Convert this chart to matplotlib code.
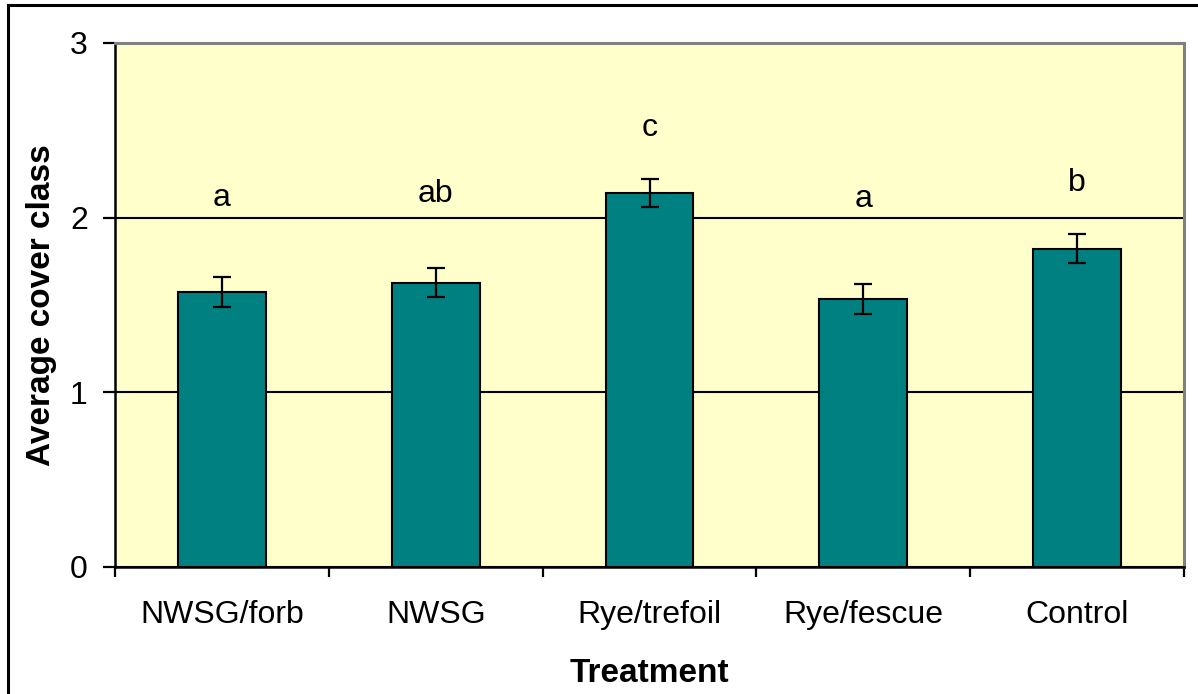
import matplotlib.pyplot as plt
from matplotlib.lines import Line2D
import numpy as np

plt.rcParams['font.family'] = ['Liberation Sans', 'DejaVu Sans']

treatments = ["NWSG/forb", "NWSG", "Rye/trefoil", "Rye/fescue", "Control"]
cover = [1.576, 1.628, 2.141, 1.533, 1.822]
se = [0.085, 0.084, 0.082, 0.085, 0.084]
letters = ["a", "ab", "c", "a", "b"]
letter_y = [2.065, 2.09, 2.47, 2.063, 2.15]

fig = plt.figure(figsize=(11.98, 6.94), dpi=100)
ax = fig.add_axes([115 / 1198, 127 / 694, 1069 / 1198, 524 / 694])
ax.set_facecolor("#FFFFCC")

x = np.arange(len(treatments))
ax.bar(x, cover, width=0.41, color="#008080", edgecolor="black", linewidth=1.5, zorder=3)
ax.errorbar(x, cover, yerr=se, fmt="none", ecolor="black", elinewidth=1.6,
            capsize=6.5, capthick=1.6, zorder=4)

for xi, lab, ly in zip(x, letters, letter_y):
    ax.text(xi, ly, lab, ha="center", va="baseline", fontsize=23, zorder=5)

ax.set_xlim(-0.5, len(treatments) - 0.5)
ax.set_ylim(0, 3)
ax.set_yticks([0, 1, 2, 3])
ax.yaxis.grid(True, color="black", linewidth=1.5, zorder=1)
ax.set_axisbelow(True)

# category labels sit between the boundary ticks
ax.set_xticks(np.arange(-0.5, len(treatments), 1.0))
ax.set_xticklabels([])
ax.set_xticks(x, minor=True)
ax.set_xticklabels(treatments, minor=True, fontsize=23)
ax.tick_params(axis="x", which="major", direction="out", length=7, width=1.6)
ax.tick_params(axis="x", which="minor", length=0, pad=24)
ax.tick_params(axis="y", direction="out", length=8.6, width=1.6, labelsize=23, pad=11)

for s in ["left", "bottom"]:
    ax.spines[s].set_linewidth(1.8)
    ax.spines[s].set_color("black")
for s in ["top", "right"]:
    ax.spines[s].set_linewidth(2.2)
    ax.spines[s].set_color("#808080")

ax.set_xlabel("Treatment", fontsize=24, fontweight="bold", labelpad=20)
ax.set_ylabel("Average cover class", fontsize=24, fontweight="bold", labelpad=9)

# chart frame (top and left edges)
fig.add_artist(Line2D([8 / 1198, 8 / 1198], [0, 1 - 5 / 694], transform=fig.transFigure,
                      color="black", linewidth=2.2))
fig.add_artist(Line2D([8 / 1198, 1], [1 - 5 / 694, 1 - 5 / 694], transform=fig.transFigure,
                      color="black", linewidth=2.2))

fig.savefig("out.png", dpi=100)
